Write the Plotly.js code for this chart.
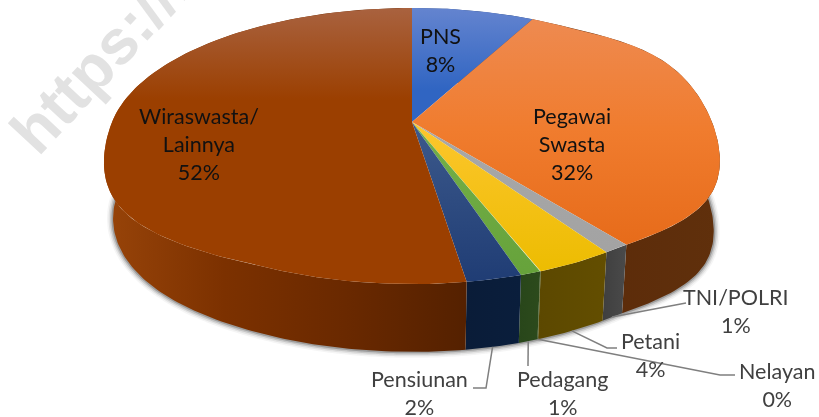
<!DOCTYPE html>
<html>
<head>
<meta charset="utf-8">
<script src="https://cdn.plot.ly/plotly-3.0.1.min.js"></script>
<style>html,body{margin:0;padding:0;background:#fff}#chart{width:819px;height:417px;filter:blur(0.45px)}</style>
</head>
<body>
<div id="chart"></div>
<script>
// ---- data (share of respondents, %) ----
const categories = ['PNS','Pegawai Swasta','TNI/POLRI','Petani','Nelayan','Pedagang','Pensiunan','Wiraswasta/ Lainnya'];
const values     = [7.67, 31.83, 1.15, 3.5, 0.03, 0.92, 2.49, 52.41];
const labelLines = [['PNS'],['Pegawai','Swasta'],['TNI/POLRI'],['Petani'],['Nelayan'],['Pedagang'],['Pensiunan'],['Wiraswasta/','Lainnya']];

// ---- styling ----
const topColors = [['#6484cf','#3065c2'],['#ee8a50','#f07c2e','#e76c1b'],['#a8a8a8','#a3a3a3'],['#fdc62e','#ecbc00'],['#b0b030','#b0b030'],['#74b04a','#66a23a'],['#3d5a8c','#1f3c74'],['#a9623f','#9b3f00']];
const wallColors = [['#1f3d78','#1f3d78'],['#5a2908','#60300c'],['#3f3f3f','#4a4a4a'],['#5c4800','#634e00'],['#445010','#445010'],['#28461a','#2c4a1c'],['#0a1c38','#0a1e3c'],['#984409','#7c3100','#6a2900','#552100']];
const gradStop = [[8,90],[20,240],[120,250],[120,275],[120,280],[120,280],[120,285],[8,100]];

// ---- projection of the tilted disc onto the axes ----
const cx=412, cy=122, B=300, A=133.9, K=0.174, wallDrop=71, wallScale=0.98;
function rim(deg, bottom){
  const t=deg*Math.PI/180, u=Math.sin(t), v=Math.cos(t), d=1+K*v;
  const s=bottom?wallScale:1;
  let bulge=1;
  if(u>0.6) bulge=1+0.055*Math.sin(Math.PI*(u-0.6)/0.4);
  else if(u<-0.4 && v<0) bulge=1+(bottom?0.015:0.085)*Math.sin(Math.PI*(-u-0.4)/0.6);
  return [cx+s*B*u*bulge/d, cy+(bottom?wallDrop:0)-s*A*v/d];
}
const total=values.reduce((a,b)=>a+b,0);
let acc=0;
const slices=values.map(v=>{const a=acc/total*360; acc+=v; return [a,acc/total*360];});
function arc(a,b,bottom){
  const n=Math.max(2,Math.ceil(Math.abs(b-a)));
  const pts=[]; for(let i=0;i<=n;i++) pts.push(rim(a+(b-a)*i/n,bottom));
  return pts;
}
function scale(cols){return cols.map((c,i)=>[i/(cols.length-1),c]);}
const traces=[];
const base={type:'scatter',mode:'lines',hoverinfo:'skip',showlegend:false};

// soft shadow under the rim
[[12,'rgba(60,60,60,0.05)'],[9,'rgba(60,60,60,0.09)'],[6,'rgba(50,50,50,0.16)'],[3,'rgba(40,40,40,0.26)']].forEach(s=>{
  [[70,172],[172,280]].forEach(r=>{
    const p=arc(r[0],r[1],true);
    traces.push(Object.assign({},base,{x:p.map(q=>q[0]),y:p.map(q=>q[1]),line:{color:s[1],width:s[0],shape:'spline'}}));
  });
});

// outer walls
slices.forEach((s,i)=>{
  const p=arc(s[0],s[1],false).concat(arc(s[1],s[0],true));
  p.push(p[0]);
  const xs=p.map(q=>q[0]);
  traces.push(Object.assign({},base,{name:categories[i]+' wall',x:xs,y:p.map(q=>q[1]),fill:'toself',line:{width:0},
    fillcolor:wallColors[i][0],
    fillgradient:{type:'horizontal',colorscale:scale(wallColors[i]),start:Math.min(...xs),stop:i===7?464:Math.max(...xs)}}));
});
// top surfaces
slices.forEach((s,i)=>{
  const p=[[cx,cy]].concat(arc(s[0],s[1],false)); p.push([cx,cy]);
  traces.push(Object.assign({},base,{name:categories[i],x:p.map(q=>q[0]),y:p.map(q=>q[1]),fill:'toself',line:{width:0},
    fillcolor:topColors[i][1],
    fillgradient:{type:'vertical',colorscale:scale(topColors[i]),start:gradStop[i][0],stop:gradStop[i][1]}}));
});

// leader lines: start on the slice's outer edge, then the elbow(s) toward the label
const leaders={2:[[683,303],[686,303]],3:[[607,348],[617,348]],4:[[720,375],[735,375]],5:[[528,366]],6:[[486,388],[473,388]]};
Object.keys(leaders).forEach(k=>{
  const i=+k, mid=(slices[i][0]+slices[i][1])/2, st=rim(mid,true);
  const p=[st].concat(leaders[k]);
  traces.push(Object.assign({},base,{x:p.map(q=>q[0]),y:p.map(q=>q[1]),line:{color:'#7f7f7f',width:1.5}}));
});

// labels
const labelPos=[[440,49.5],[572,144],[736,311],[650,354.5],[777,384.5],[562,393],[419,393],[199,143.5]];
const insideLabel=[1,1,0,0,0,0,0,1];
const annotations=categories.map((c,i)=>({
  x:labelPos[i][0],y:labelPos[i][1],xref:'x',yref:'y',showarrow:false,xanchor:'center',yanchor:'middle',align:'center',
  text:labelLines[i].concat([values[i].toFixed(0)+'%']).join('<br>'),
  font:{family:'Lato, sans-serif',size:21.5,color:insideLabel[i]?'#111111':'#404040'}
}));
annotations.push({x:102,y:57,xref:'x',yref:'y',showarrow:false,xanchor:'center',yanchor:'middle',textangle:-47,
  text:'https://r',font:{family:'Liberation Sans, sans-serif',size:63,color:'#e2e2e2',weight:700}});

Plotly.newPlot('chart',traces,{
  width:819,height:417,margin:{l:0,r:0,t:0,b:0},paper_bgcolor:'#fff',plot_bgcolor:'#fff',showlegend:false,
  xaxis:{range:[0,819],visible:false,fixedrange:true},
  yaxis:{range:[417,0],visible:false,fixedrange:true},
  annotations:annotations
},{displayModeBar:false,staticPlot:true});
</script>
</body>
</html>
